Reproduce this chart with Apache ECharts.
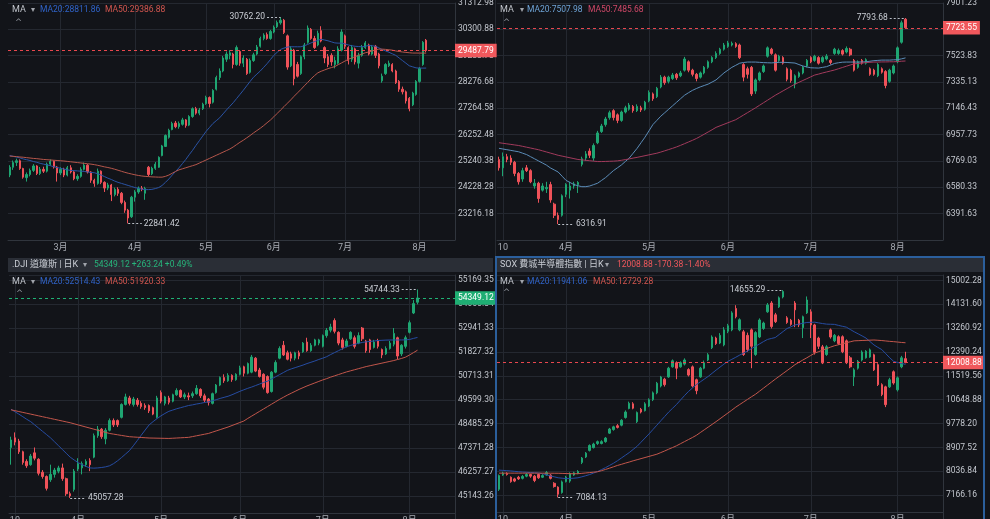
<!DOCTYPE html>
<html>
<head>
<meta charset="utf-8">
<script src="https://cdn.jsdelivr.net/npm/echarts@6.0.0/dist/echarts.min.js"></script>
<style>
html,body{margin:0;padding:0;background:#121419;overflow:hidden;}
#chart{width:990px;height:519px;}
</style>
</head>
<body>
<div id="chart"></div>
<script>
// ================= DATA =================
// ---- Top-left (TW index, daily) ----
const twDates = ("01-28,01-29,01-30,02-02,02-03,02-04,02-05,02-06,02-09,02-10,02-11,02-23,02-24,02-25,02-26," +
 "03-02,03-03,03-04,03-05,03-06,03-09,03-10,03-11,03-12,03-13,03-16,03-17,03-18,03-19,03-20,03-23,03-24,03-25,03-26,03-27,03-30,03-31," +
 "04-01,04-02,04-03,04-07,04-08,04-09,04-10,04-13,04-14,04-15,04-16,04-17,04-20,04-21,04-22,04-23,04-24,04-27,04-28,04-29,04-30," +
 "05-04,05-05,05-06,05-07,05-08,05-11,05-12,05-13,05-14,05-15,05-18,05-19,05-20,05-21,05-22,05-25,05-26,05-27,05-28,05-29," +
 "06-01,06-02,06-03,06-04,06-05,06-08,06-09,06-10,06-11,06-12,06-15,06-16,06-17,06-18,06-22,06-23,06-24,06-25,06-26,06-29,06-30," +
 "07-01,07-02,07-06,07-07,07-08,07-09,07-10,07-13,07-14,07-15,07-16,07-17,07-20,07-21,07-22,07-23,07-24,07-27,07-28,07-29,07-30,07-31," +
 "08-03,08-04,08-05").split(',');
const twAxisMarks = {'03-02':'3月','04-01':'4月','05-04':'5月','06-01':'6月','07-01':'7月','08-03':'8月'};
const twOpen = [24700,25000,25180,25250,24950,24600,24720,24880,25050,24760,
24920,24850,25120,25230,25010,24780,24920,24700,24980,24820,
24560,24650,24920,25080,24820,24500,24380,24850,24420,24200,
24320,23950,24150,24000,23650,23350,23100,23850,24050,24200,
24000,25000,24750,24960,25000,25450,25800,26150,26450,26700,
26560,26650,26820,26620,26950,27250,27080,27250,27450,27680,
27500,28000,28450,28700,29150,29300,29350,28950,29450,29000,
29150,28650,29100,29350,29650,29950,30100,29950,30200,30400,
30550,30650,30050,28900,29500,28950,28600,29250,29800,30300,
29950,29700,30250,29600,29250,29300,28950,29000,29500,30050,
29600,29150,29550,29000,29300,29600,29700,29350,29650,29350,
28320,28600,28900,28950,28700,28300,28000,27900,27650,27400,
27800,28300,28950,29880];
const twClose = [25000,25180,25250,24950,24620,24720,24880,25050,24760,24920,
24850,25120,25230,25010,24780,24920,24700,24980,24820,24560,
24650,24920,25080,24820,24500,24380,24850,24420,24200,24320,
23950,24150,24000,23650,23350,23050,23850,24050,24200,24150,
24180,24720,24960,25120,25380,25820,26220,26420,26680,26560,
26680,26820,26600,26950,27250,27080,27200,27420,27680,27450,
27950,28450,28700,29200,29350,29400,28950,29600,29000,29200,
28600,29100,29320,29620,29950,30080,29950,30220,30380,30560,
30650,30180,28850,29550,28400,28500,29250,29700,30350,29950,
29600,30150,29850,29200,28950,29050,29100,29550,30200,29650,
29100,29600,29050,29300,29600,29780,29350,29620,29300,28900,
28500,28950,29000,28700,28250,28000,27900,27550,27250,27850,
28300,28800,29800,29487.79];
const twLow = [24620,24900,25050,24900,24560,24450,24650,24820,24700,24700,
24780,24800,25060,24950,24450,24700,24620,24650,24760,24500,
24480,24600,24880,24760,24400,24250,24330,24350,24050,24120,
23700,23880,23900,23580,23250,22841.42,23050,23680,23980,24080,
23750,24650,24700,24900,24980,25420,25780,26100,26420,26500,
26480,26600,26520,26580,26900,27020,27000,27200,27400,27300,
27450,27950,28350,28650,29050,29150,28800,28900,28900,28850,
28550,28600,29050,29300,29600,29880,29900,29900,30150,30350,
30480,30120,28750,28850,28150,28450,28550,29150,29750,29900,
29550,29650,29800,29000,28850,28900,28800,28950,29450,29550,
28950,29050,28950,28800,29250,29550,29300,29300,29200,28800,
28250,28550,28850,28650,28200,27900,27800,27450,27150,27350,
27750,28250,28900,29420];
const twHigh = [25080,25260,25330,25300,24980,24800,24950,25120,25080,25010,
25020,25180,25300,25260,25050,25000,24980,25050,25080,24850,
24730,25000,25180,25120,24850,24560,24950,24880,24460,24400,
24360,24220,24230,24050,23720,23400,23900,24120,24260,24280,
24250,25050,25020,25200,25420,25860,26260,26480,26750,26780,
26760,26900,26850,27000,27300,27320,27280,27480,27750,27720,
28000,28520,28800,29280,29450,29500,29400,29680,29500,29300,
29200,29180,29400,29700,30020,30150,30180,30280,30450,30640,
30762.2,30700,30100,29650,29550,29050,29300,29780,30450,30350,
30050,30250,30420,29650,29350,29380,29250,29650,30300,30100,
29650,29700,29600,29400,29700,29850,29750,29700,29700,29400,
28600,29000,29100,29000,28750,28350,28100,27950,27700,27900,
28350,28850,29850,29930];
const twMA20 = [25450,25420,25390,25360,25320,25290,25260,25220,25190,25150,
25120,25090,25060,25020,24990,24960,24930,24900,24880,24870,
24860,24850,24840,24820,24800,24790,24750,24700,24640,24580,
24530,24470,24420,24380,24340,24300,24260,24220,24190,24160,
24140,24140,24150,24180,24220,24300,24420,24550,24700,24840,
24980,25140,25300,25480,25650,25840,26020,26200,26380,26530,
26680,26790,26900,27050,27200,27340,27480,27640,27800,27960,
28130,28300,28460,28580,28700,28840,28980,29140,29300,29420,
29530,29580,29620,29630,29630,29630,29630,29670,29720,29780,
29830,29880,29920,29890,29860,29820,29780,29770,29770,29740,
29700,29670,29650,29640,29630,29650,29680,29670,29650,29590,
29520,29470,29420,29360,29300,29200,29100,29000,28900,28860,
28820,28810,28810,28811.86];
const twMA50 = [25430,25420,25410,25395,25385,25370,25355,25340,25330,25315,
25300,25290,25280,25270,25260,25250,25240,25225,25210,25195,
25180,25165,25150,25135,25120,25100,25075,25045,25015,24990,
24960,24925,24885,24845,24805,24770,24740,24710,24685,24665,
24650,24640,24630,24625,24620,24620,24650,24700,24770,24840,
24900,24940,24980,25020,25060,25100,25160,25220,25280,25340,
25400,25460,25520,25580,25640,25700,25780,25870,25960,26040,
26130,26220,26320,26410,26500,26600,26710,26815,26940,27070,
27200,27330,27460,27590,27730,27860,27990,28130,28260,28400,
28520,28630,28690,28740,28790,28830,28870,28940,29010,29080,
29150,29200,29250,29300,29350,29400,29430,29470,29510,29540,
29540,29530,29515,29500,29470,29450,29430,29415,29400,29390,
29390,29388,29387,29386.88];

// ---- US trading dates (shared by top-right, bottom-left, bottom-right) ----
const usDates = ("03-09,03-10,03-11,03-12,03-13,03-16,03-17,03-18,03-19,03-20,03-23,03-24,03-25,03-26,03-27,03-30,03-31," +
 "04-01,04-02,04-06,04-07,04-08,04-09,04-10,04-13,04-14,04-15,04-16,04-17,04-20,04-21,04-22,04-23,04-24,04-27,04-28,04-29,04-30," +
 "05-01,05-04,05-05,05-06,05-07,05-08,05-11,05-12,05-13,05-14,05-15,05-18,05-19,05-20,05-21,05-22,05-26,05-27,05-28,05-29," +
 "06-01,06-02,06-03,06-04,06-05,06-08,06-09,06-10,06-11,06-12,06-15,06-16,06-17,06-18,06-22,06-23,06-24,06-25,06-26,06-29,06-30," +
 "07-01,07-02,07-06,07-07,07-08,07-09,07-10,07-13,07-14,07-15,07-16,07-17,07-20,07-21,07-22,07-23,07-24,07-27,07-28,07-29,07-30,07-31," +
 "08-03,08-04,08-05").split(',');
const usAxisMarks = {'03-10':'10','04-01':'4月','05-01':'5月','06-01':'6月','07-01':'7月','08-03':'8月'};

// ---- Top-right (S&P 500) ----
const spOpen = [6780,6720,6800,6790,6760,6680,6640,6720,6700,6590,
6610,6560,6570,6600,6460,6380,6380,6530,6560,6590,
6600,6745,6790,6840,6790,6900,6980,7030,7080,7130,
7100,7060,7120,7140,7160,7130,7150,7140,7200,7250,
7230,7300,7370,7340,7360,7390,7380,7420,7480,7420,
7390,7370,7400,7440,7480,7510,7540,7570,7590,7600,
7610,7600,7460,7430,7440,7270,7350,7410,7520,7570,
7530,7490,7510,7430,7420,7320,7375,7400,7450,7510,
7490,7510,7480,7500,7490,7540,7540,7560,7550,7570,
7490,7440,7490,7470,7430,7420,7380,7430,7410,7340,
7400,7480,7620,7785];
const spClose = [6720,6800,6780,6760,6680,6620,6700,6700,6620,6610,
6500,6590,6580,6490,6380,6350,6520,6600,6590,6605,
6615,6785,6820,6810,6880,6970,7020,7070,7115,7080,
7060,7120,7150,7170,7130,7160,7135,7190,7260,7215,
7290,7370,7330,7370,7385,7365,7400,7500,7420,7390,
7360,7400,7440,7480,7510,7540,7570,7600,7615,7612,
7590,7510,7370,7390,7250,7350,7400,7450,7580,7540,
7420,7520,7470,7355,7345,7380,7400,7440,7490,7480,
7520,7470,7510,7520,7475,7570,7560,7535,7575,7530,
7420,7480,7470,7495,7390,7390,7460,7405,7310,7420,
7450,7580,7760,7723.55];
const spLow = [6700,6660,6760,6740,6660,6600,6620,6690,6610,6570,
6470,6550,6540,6470,6360,6316.91,6370,6510,6500,6570,
6540,6730,6770,6790,6770,6890,6970,7015,7065,7060,
7040,7050,7110,7130,7115,7120,7120,7130,7190,7200,
7220,7290,7315,7325,7350,7350,7370,7410,7405,7375,
7340,7360,7390,7430,7470,7500,7530,7560,7580,7590,
7580,7500,7340,7360,7235,7250,7340,7400,7510,7530,
7410,7480,7460,7340,7330,7290,7365,7390,7440,7470,
7480,7460,7470,7490,7460,7530,7530,7525,7540,7520,
7410,7430,7460,7460,7380,7380,7370,7395,7290,7330,
7390,7470,7610,7715];
const spHigh = [6800,6830,6820,6810,6770,6690,6720,6740,6710,6640,
6620,6610,6620,6620,6470,6400,6530,6610,6620,6620,
6625,6800,6840,6860,6895,6985,7035,7085,7130,7140,
7110,7130,7165,7185,7170,7175,7165,7200,7275,7260,
7300,7385,7380,7380,7400,7400,7415,7515,7490,7430,
7400,7410,7450,7490,7520,7555,7580,7615,7630,7625,
7620,7610,7470,7445,7450,7360,7410,7460,7590,7580,
7540,7530,7520,7440,7430,7390,7410,7450,7500,7520,
7530,7520,7520,7535,7500,7580,7575,7570,7590,7580,
7500,7490,7500,7505,7440,7430,7470,7440,7420,7430,
7460,7590,7775,7793.68];
const spMA20 = [6860,6855,6850,6845,6840,6835,6825,6815,6800,6785,
6770,6755,6740,6720,6705,6690,6660,6630,6615,6600,
6592,6585,6585,6590,6600,6610,6630,6650,6675,6700,
6720,6740,6765,6790,6825,6860,6900,6940,6985,7030,
7060,7090,7115,7140,7165,7190,7215,7240,7258,7275,
7288,7300,7310,7320,7335,7350,7375,7400,7420,7440,
7455,7470,7475,7478,7478,7478,7476,7474,7473,7472,
7474,7476,7476,7475,7473,7471,7460,7450,7443,7437,
7436,7435,7440,7445,7456,7468,7473,7477,7478,7478,
7478,7478,7479,7480,7484,7488,7490,7492,7492,7492,
7494,7495,7501,7507.98];
const spMA50 = [6900,6896,6892,6888,6884,6880,6874,6868,6862,6856,
6850,6842,6834,6826,6818,6810,6804,6798,6792,6786,
6780,6777,6774,6771,6768,6765,6765,6766,6767,6768,
6770,6774,6779,6784,6790,6795,6801,6807,6813,6819,
6825,6833,6842,6851,6860,6870,6881,6893,6905,6917,
6930,6945,6961,6977,6993,7010,7021,7032,7043,7054,
7065,7082,7099,7116,7133,7150,7168,7186,7204,7222,
7240,7256,7272,7288,7304,7320,7333,7346,7359,7372,
7385,7392,7400,7407,7414,7421,7430,7439,7448,7457,
7465,7468,7471,7474,7476,7478,7478,7479,7479,7480,
7480,7482,7484,7485.68];

// ---- Bottom-left (.DJI) ----
const djOpen = [47400,47850,47700,47200,46750,46600,47150,46850,46250,46050,
45900,46150,46300,46450,45950,45250,45450,46400,46450,46600,
46800,46950,47950,48250,47800,48200,48650,48650,48800,49400,
49700,49400,49600,49450,49350,49350,49250,48800,49950,49450,
49700,49550,49850,50050,49750,49800,49800,49900,50100,49800,
49650,49450,49950,50300,50650,50500,50750,50550,50800,51150,
50850,50900,51550,51000,50800,50700,50000,50900,51550,52150,
51800,51750,51550,51800,51850,52300,51900,52150,52250,52100,
52600,52850,53300,52750,52400,52100,52450,52500,52250,52950,
52350,52400,52050,52350,51950,51750,52000,52200,52500,51750,
52100,52750,53650,54150];
const djClose = [47750,47650,47200,46700,46550,47000,46900,46200,46050,45500,
46150,46350,46450,45950,45250,45150,46300,46650,46650,46750,
46600,47950,48250,47900,48200,48650,48450,48450,49400,49750,
49450,49650,49400,49300,49250,49100,48950,49700,49550,49750,
49500,49850,50050,49750,49850,49750,49900,50150,49800,49600,
49500,49900,50300,50650,50500,50750,50550,50800,51100,50850,
51300,51600,50950,50700,50200,49950,50900,51350,52000,51700,
51500,51550,51800,51650,52250,51900,52150,52400,52400,52600,
52850,53000,52800,52250,52050,52350,52750,52100,52600,52450,
51900,51950,52300,52100,51700,52000,52250,52700,51650,52150,
52500,53200,54085.88,54349.12];
const djLow = [46600,47500,47100,46600,46450,46550,46800,46100,45950,45400,
45800,46000,46200,45850,45150,45057.28,45350,46300,46150,46500,
46300,46900,47850,47800,47550,48150,48350,48350,48750,49350,
49350,49300,49300,49200,49150,49000,48900,48750,49450,49350,
49400,49500,49800,49700,49650,49600,49700,49850,49700,49500,
49350,49400,49900,50250,50400,50450,50450,50500,50750,50700,
50800,50850,50900,50650,50100,49900,49950,50850,51500,51650,
51450,51400,51450,51500,51800,51850,51850,52100,52150,52050,
52500,52750,52700,52150,51950,52050,52400,52000,52200,52350,
51800,51800,52000,52000,51550,51700,51950,52100,51500,51650,
52000,52700,53600,54050];
const djHigh = [47900,48100,47800,47250,46850,47100,47400,46900,46350,46100,
46600,46450,46550,46650,46000,45350,46400,46900,46750,46850,
46900,48050,48400,48300,48300,48750,48750,48700,49450,49900,
49800,49750,49700,49550,49450,49400,49300,49800,50050,49800,
49800,49900,50150,50100,49950,49950,50000,50300,50150,49900,
49700,49950,50350,50700,50800,50850,50800,50850,51200,51200,
51350,51700,51600,51100,50850,50750,50950,51450,52100,52350,
51900,51850,51850,51900,52300,52500,52250,52450,52450,52650,
52950,53150,53400,52800,52500,52450,52800,52600,52750,53000,
52400,52450,52400,52450,52000,52100,52350,52950,52550,52200,
52600,53300,54250,54744.33];
const djMA20 = [49180,49060,48950,48830,48710,48600,48450,48300,48150,48000,
47850,47670,47490,47310,47130,46950,46820,46700,46600,46520,
46450,46440,46450,46470,46500,46550,46650,46780,46930,47090,
47250,47480,47720,47970,48210,48450,48600,48740,48870,48980,
49080,49140,49200,49250,49300,49350,49380,49420,49450,49490,
49520,49570,49620,49680,49730,49780,49850,49930,50010,50080,
50150,50210,50280,50350,50420,50480,50580,50680,50780,50880,
50980,51050,51110,51170,51230,51300,51360,51420,51490,51550,
51620,51720,51810,51900,51990,52080,52140,52190,52240,52280,
52310,52330,52350,52370,52380,52390,52395,52395,52395,52397,
52400,52420,52470,52514.43];
const djMA50 = [49150,49110,49070,49030,48990,48950,48910,48870,48830,48790,
48750,48710,48670,48630,48590,48550,48500,48450,48400,48350,
48300,48250,48200,48150,48100,48050,48020,47990,47960,47930,
47900,47888,47876,47864,47852,47840,47836,47832,47828,47824,
47820,47830,47840,47850,47860,47870,47906,47942,47978,48014,
48050,48110,48170,48230,48290,48350,48420,48490,48560,48630,
48750,48860,48970,49080,49190,49300,49410,49520,49630,49730,
49830,49920,50010,50100,50180,50260,50330,50400,50470,50540,
50600,50670,50730,50790,50850,50910,50960,51010,51060,51110,
51160,51200,51240,51280,51320,51360,51400,51440,51490,51540,
51600,51700,51810,51920.33];

// ---- Bottom-right (SOX) ----
const sxOpen = [7380,7900,7960,7820,7760,7820,7780,7860,7920,7860,
7920,7820,7900,7900,7600,7460,7260,7660,7680,7900,
7960,8360,8560,8800,8900,9050,9050,9120,9430,9560,
9700,9720,10000,10330,10500,9850,10300,10250,10420,10650,
10900,11150,11400,11480,11850,12000,11850,11950,11750,11850,
11380,11480,11800,12100,12550,12900,12720,12650,13150,13200,
13980,13200,13130,13000,13200,12300,12940,13250,13860,14180,
13750,14040,14400,13640,13550,14180,13550,13280,13820,13860,
13380,12900,12580,12300,13200,12800,12950,12950,12800,12180,
11480,11800,12100,12180,12210,12290,11930,11200,11120,11120,
11670,11010,11850,12150];
const sxClose = [7880,7960,7920,7660,7680,7760,7850,7920,7860,7700,
7800,7880,7990,7780,7480,7200,7650,7820,7950,7980,
8030,8520,8700,8980,9030,9120,9120,9250,9580,9660,
9640,9900,10200,10520,10340,10180,10200,10500,10650,10900,
11250,11480,11200,11800,12070,11800,12000,12100,11550,11150,
10980,11800,12000,12290,12940,12700,13000,13200,13350,13820,
13680,13570,12300,12480,12600,13100,13560,13450,14110,13320,
13500,14370,14600,13470,13400,13930,13380,13680,14290,13380,
12380,12600,11990,12580,12940,13000,12700,12400,12000,11850,
11740,12050,12390,12420,12470,11740,11200,10840,10470,11380,
11260,11450,12179.26,12008.88];
const sxLow = [7320,7870,7880,7620,7640,7720,7740,7820,7800,7640,
7760,7790,7880,7740,7440,7084.13,7220,7630,7620,7870,
7930,8300,8520,8760,8870,9000,9020,9080,9400,9520,
9600,9680,9960,10300,10300,9800,10150,10220,10380,10600,
10850,11100,11130,11450,11820,11400,11820,11900,11500,11100,
10850,11450,11760,12060,12500,12650,12680,12600,13080,13150,
13620,13150,12250,12400,11800,12250,12900,13200,13820,13250,
13450,14000,14350,13420,13350,13300,13300,12900,13780,12900,
12300,12500,11950,12250,12880,12750,12650,12350,11950,11800,
11150,11750,12050,12150,12180,11700,11150,10780,10380,11080,
11200,10950,11800,11980];
const sxHigh = [7920,8020,8000,7850,7800,7870,7900,7980,7950,7900,
7960,7930,8050,7930,7640,7490,7700,7870,8000,8020,
8080,8560,8740,9020,9080,9160,9170,9290,9620,9700,
9760,9940,10260,10580,10560,10220,10350,10560,10700,10950,
11300,11520,11450,11850,12120,12050,12050,12160,11800,11900,
11420,11850,12080,12350,13000,12950,13080,13300,13420,13880,
14100,13620,13200,13100,13250,13150,13620,13500,14180,14250,
13820,14420,14655.29,13700,13600,14250,13600,13720,14420,13950,
13420,12950,12650,12640,13250,13050,13000,13000,12850,12250,
11800,12100,12450,12460,12520,12330,11980,11250,11160,11450,
11720,11500,12250,12400];
const sxMA20 = [8080,8070,8060,8050,8035,8020,8010,8000,7990,7985,
7975,7950,7910,7870,7835,7800,7785,7770,7775,7785,
7800,7835,7875,7920,7975,8030,8100,8170,8250,8330,
8420,8520,8620,8720,8835,8950,9100,9250,9400,9560,
9720,9880,10040,10200,10340,10480,10640,10800,10950,11075,
11200,11300,11400,11500,11615,11730,11840,11950,12050,12125,
12200,12280,12355,12430,12515,12600,12685,12770,12850,12885,
12920,13030,13140,13250,13315,13380,13410,13440,13470,13475,
13480,13455,13430,13410,13405,13400,13365,13330,13300,13215,
13130,13055,12980,12900,12775,12650,12560,12480,12330,12180,
12050,12010,11975,11941.06];
const sxMA50 = [7970,7970,7970,7970,7970,7970,7970,7970,7970,7970,
7970,7969,7968,7967,7966,7965,7960,7955,7950,7948,
7950,7962,7976,7990,8005,8020,8060,8105,8150,8200,
8250,8290,8335,8375,8420,8460,8500,8540,8580,8620,
8660,8720,8780,8845,8905,8970,9045,9120,9195,9270,
9350,9450,9550,9650,9750,9850,9955,10060,10165,10270,
10380,10475,10570,10665,10760,10850,10960,11070,11180,11290,
11400,11505,11610,11715,11820,11930,12015,12100,12180,12265,
12350,12405,12460,12515,12570,12620,12655,12690,12730,12765,
12800,12806,12812,12818,12824,12830,12820,12810,12795,12780,
12770,12755,12740,12729.28];

// Header quotes (text)
const djiTitle = '.DJI 道瓊斯 | 日K', djiQuote = '54349.12 +263.24 +0.49%';
const soxTitle = 'SOX 費城半導體指數 | 日K', soxQuote = '12008.88 -170.38 -1.40%';

// ================= STYLE / LAYOUT =================
const FONT = 'Roboto, "Noto Sans CJK TC", "Noto Sans", sans-serif';
const BG = '#121419';
const GRIDLINE = '#242830';
const AXISLINE = '#30353d';
const UP = '#1fa572';
const DOWN = '#ef5259';
const RED_TAG = '#f0585c';
const GREEN_TAG = '#1fae73';

const panels = [
  { dates: twDates, marks: twAxisMarks, open: twOpen, close: twClose, low: twLow, high: twHigh, ma20: twMA20, ma50: twMA50,
    grid: {left: 8, top: 3, width: 447, height: 237}, nCat: 132,
    y: {min: 22204.08, max: 31312.98, interval: 1012.1, showMax: true}, xOffset: 0,
    tag: RED_TAG, pline: '#e8474e', c20: '#2a53a4', c50: '#b5564b', t20: '#3063c8', t50: '#d2564f',
    legend: {y: 10, x: [12, 31, 40, 105]}, caret: [15, 23] },
  { dates: usDates, marks: usAxisMarks, open: spOpen, close: spClose, low: spLow, high: spHigh, ma20: spMA20, ma50: spMA50,
    grid: {left: 497, top: 3, width: 446, height: 237}, nCat: 113,
    y: {min: 6202.93, max: 7901.23, interval: 188.7, showMax: true}, xOffset: 0,
    tag: RED_TAG, pline: '#e8474e', c20: '#5b8cb8', c50: '#a23a5c', t20: '#6ea3d6', t50: '#d04868',
    legend: {y: 10, x: [500, 520, 527, 588]}, caret: [503, 23] },
  { dates: usDates, marks: usAxisMarks, open: djOpen, close: djClose, low: djLow, high: djHigh, ma20: djMA20, ma50: djMA50,
    grid: {left: 9, top: 275, width: 446, height: 245}, nCat: 113,
    y: {min: 44029.25, max: 55415.7, interval: 1114.01, showMax: false}, xOffset: -7,
    tag: GREEN_TAG, pline: '#1fb275', c20: '#264ca2', c50: '#c2564b', t20: '#3063c8', t50: '#d2564f',
    legend: {y: 282, x: [12, 31, 40, 105]}, caret: [16, 294] },
  { dates: usDates, marks: usAxisMarks, open: sxOpen, close: sxClose, low: sxLow, high: sxHigh, ma20: sxMA20, ma50: sxMA50,
    grid: {left: 497, top: 275, width: 446, height: 244}, nCat: 113,
    y: {min: 6295.48, max: 15203, interval: 870.68, showMax: false}, xOffset: -7,
    tag: RED_TAG, pline: '#e8474e', c20: '#264ca2', c50: '#c2564b', t20: '#3063c8', t50: '#d2564f',
    legend: {y: 282, x: [500, 520, 527, 593]}, caret: [503, 293] }
];

const grids = [], xAxes = [], yAxes = [], series = [], graphics = [];

function txt(x, y, text, color, size, family) {
  return { type: 'text', x: x, y: y, z: 100, silent: true,
    style: { text: text, fill: color, fontSize: size || 8.5, fontFamily: family || FONT,
      verticalAlign: 'middle', textVerticalAlign: 'middle' } };
}

panels.forEach((p, gi) => {
  const cats = p.dates.slice();
  for (let k = cats.length; k < p.nCat; k++) cats.push('pad' + k);
  const isMark = (i, v) => p.marks[v] !== undefined;

  grids.push(Object.assign({containLabel: false, outerBoundsMode: 'none'}, p.grid));
  xAxes.push({
    type: 'category', gridIndex: gi, data: cats, boundaryGap: true, offset: p.xOffset,
    axisLine: {show: true, lineStyle: {color: AXISLINE, width: 1}},
    axisTick: {show: false},
    axisLabel: {interval: isMark, formatter: v => p.marks[v] || '', color: '#a8acb4', fontSize: 9, fontFamily: FONT, margin: 3},
    splitLine: {show: true, interval: isMark, alignWithLabel: true, lineStyle: {color: GRIDLINE, width: 1}}
  });
  yAxes.push({
    type: 'value', gridIndex: gi, position: 'right',
    min: p.y.min, max: p.y.max, interval: p.y.interval,
    axisLine: {show: true, lineStyle: {color: AXISLINE, width: 1}},
    axisTick: {show: false},
    axisLabel: {showMinLabel: false, showMaxLabel: p.y.showMax, formatter: v => v.toFixed(2),
      color: '#c3c7ce', fontSize: 8.5, fontFamily: FONT, margin: 3},
    splitLine: {show: true, lineStyle: {color: GRIDLINE, width: 1}}
  });

  const kdata = p.dates.map((d, i) => [p.open[i], p.close[i], p.low[i], p.high[i]]);
  let iMax = 0, iMin = 0;
  p.high.forEach((v, i) => { if (v > p.high[iMax]) iMax = i; });
  p.low.forEach((v, i) => { if (v < p.low[iMin]) iMin = i; });
  const last = p.close[p.close.length - 1];

  // candles + last-price line
  series.push({
    type: 'candlestick', xAxisIndex: gi, yAxisIndex: gi, data: kdata, barWidth: '52%',
    itemStyle: {color: UP, color0: DOWN, borderColor: UP, borderColor0: DOWN, borderWidth: 1},
    silent: true, animation: false, z: 2,
    markLine: {
      symbol: ['none', 'none'], silent: true, animation: false, emphasis: {disabled: true},
      lineStyle: {color: p.pline, type: [3, 3], width: 1, opacity: 1},
      label: {show: true, position: 'end', formatter: last.toFixed(2), color: '#ffffff',
        backgroundColor: p.tag, padding: [3, 3, 2, 3], fontSize: 8.5, fontFamily: FONT, distance: 0},
      data: [{yAxis: last}]
    }
  });
  // MA20 line + max/min annotations
  series.push({type: 'line', xAxisIndex: gi, yAxisIndex: gi, data: p.ma20, symbol: 'none', showSymbol: false,
    lineStyle: {color: p.c20, width: 1}, silent: true, animation: false, z: 3,
    markLine: {
      symbol: ['none', 'none'], silent: true, animation: false, emphasis: {disabled: true},
      lineStyle: {color: '#b9bec6', type: [2, 2], width: 1, opacity: 1},
      label: {show: true, color: '#c9cdd4', fontSize: 8.5, fontFamily: FONT, distance: 2},
      data: [
        [{coord: [iMax - 4, p.high[iMax]], label: {position: 'start', formatter: p.high[iMax].toFixed(2)}},
         {coord: [iMax, p.high[iMax]]}],
        [{coord: [iMin, p.low[iMin]], label: {position: 'end', formatter: p.low[iMin].toFixed(2)}},
         {coord: [iMin + 4, p.low[iMin]]}]
      ]
    }
  });
  series.push({type: 'line', xAxisIndex: gi, yAxisIndex: gi, data: p.ma50, symbol: 'none', showSymbol: false,
    lineStyle: {color: p.c50, width: 1}, silent: true, animation: false, z: 3});

  // legend line "MA ▾ MA20:... MA50:..."
  const L = p.legend;
  graphics.push(txt(L.x[0], L.y, 'MA', '#c0c4cb', 9));
  graphics.push(txt(L.x[1], L.y, '▾', '#a0a4ab', 8, 'DejaVu Sans'));
  graphics.push(txt(L.x[2], L.y, 'MA20:' + p.ma20[p.ma20.length - 1].toFixed(2), p.t20, 8.5));
  graphics.push(txt(L.x[3], L.y, 'MA50:' + p.ma50[p.ma50.length - 1].toFixed(2), p.t50, 8.5));
  graphics.push(txt(p.caret[0], p.caret[1], '^', '#8c9099', 8.5, 'DejaVu Sans'));
});

// panel chrome
graphics.unshift(
  {type: 'line', silent: true, z: 0, shape: {x1: 495.5, y1: 0, x2: 495.5, y2: 257}, style: {stroke: '#262a31', lineWidth: 1}},
  {type: 'rect', silent: true, z: 0, shape: {x: 8, y: 258, width: 485, height: 14}, style: {fill: '#2a2e36'}},
  {type: 'rect', silent: true, z: 0, shape: {x: 497, y: 258, width: 486, height: 14}, style: {fill: '#2a2e36'}},
  {type: 'rect', silent: true, z: 50, shape: {x: 496, y: 257, width: 488, height: 264}, style: {fill: 'none', stroke: '#2b5f9c', lineWidth: 2}}
);
graphics.push(txt(12, 265, djiTitle, '#c8ccd3', 9));
graphics.push(txt(83, 265, '▾', '#a0a4ab', 8, 'DejaVu Sans'));
graphics.push(txt(94, 265, djiQuote, '#27b57b', 8.5));
graphics.push(txt(500, 265, soxTitle, '#c8ccd3', 9));
graphics.push(txt(605, 265, '▾', '#a0a4ab', 8, 'DejaVu Sans'));
graphics.push(txt(617, 265, soxQuote, '#f0585c', 8.5));

const chart = echarts.init(document.getElementById('chart'), null, {renderer: 'canvas'});
chart.setOption({
  backgroundColor: BG,
  animation: false,
  textStyle: {fontFamily: FONT},
  grid: grids, xAxis: xAxes, yAxis: yAxes, series: series,
  graphic: {elements: graphics}
});
</script>
</body>
</html>
